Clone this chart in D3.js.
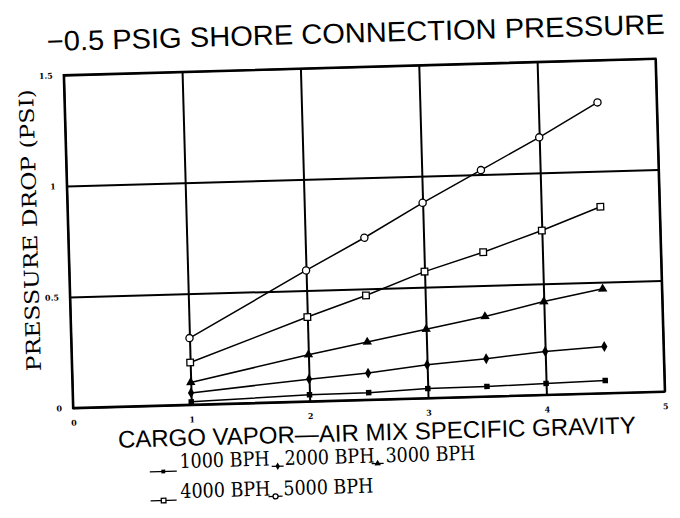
<!DOCTYPE html>
<html><head><meta charset="utf-8">
<script src="https://cdn.jsdelivr.net/npm/d3@7"></script>
<style>body{margin:0;background:#fff}</style>
</head><body><svg id="c" width="680" height="518"></svg>
<script>
// ---- data ----
const gravity = [1, 2, 2.5, 3, 3.5, 4, 4.5];
const seriesNames = ["1000 BPH", "2000 BPH", "3000 BPH", "4000 BPH", "5000 BPH"];
const bph1000 = [0.013, 0.030, 0.032, 0.043, 0.045, 0.051, 0.057];
const bph2000 = [0.053, 0.100, 0.120, 0.150, 0.170, 0.195, 0.210];
const bph3000 = [0.100, 0.210, 0.260, 0.310, 0.360, 0.420, 0.470];
const bph4000 = [0.190, 0.380, 0.470, 0.570, 0.650, 0.740, 0.840];
const bph5000 = [0.300, 0.590, 0.730, 0.880, 1.020, 1.160, 1.310];
const xTicks = [0, 1, 2, 3, 4, 5];
const xTickLabels = ["0", "1", "2", "3", "4", "5"];
const yTicks = [0, 0.5, 1, 1.5];
const yTickLabels = ["0", "0.5", "1", "1.5"];
const titleText = "\u22120.5 PSIG SHORE CONNECTION PRESSURE";
const xTitle = "CARGO VAPOR\u2014AIR MIX SPECIFIC GRAVITY";
const yTitle = "PRESSURE DROP (PSI)";

const seriesValues = [bph1000, bph2000, bph3000, bph4000, bph5000];
const markerTypes = ["fsquare", "fdiamond", "ftriangle", "osquare", "ocircle"];

// ---- layout ----
const L = 73, R = 665, T = 75, B = 408;
const svg = d3.select("#c");
const root = svg.append("g").attr("transform", `rotate(-1.6, ${L}, ${B})`);

const x = d3.scaleLinear().domain([0, 5]).range([L, R]);
const y = d3.scaleLinear().domain([0, 1.5]).range([B, T]);

// title
root.append("text").attr("x", 57).attr("y", 50.5)
  .attr("font-family", "Liberation Sans, Arial, sans-serif").attr("font-size", 28)
  .attr("textLength", 618).attr("lengthAdjust", "spacingAndGlyphs")
  .text(titleText);

// grid via axes
const gx = root.append("g").attr("transform", `translate(0,${B})`)
  .call(d3.axisBottom(x).tickValues(xTicks).tickSize(-(B - T)).tickPadding(12)
    .tickFormat((d, i) => xTickLabels[i]));
gx.select(".domain").remove();
gx.selectAll(".tick line").attr("stroke", "#000").attr("stroke-width", 2);
gx.selectAll(".tick text").attr("font-family", "DejaVu Serif, serif").attr("font-size", 8)
  .attr("font-weight", "bold").attr("fill", "#000");

const gy = root.append("g").attr("transform", `translate(${L},0)`)
  .call(d3.axisLeft(y).tickValues(yTicks).tickSize(-(R - L)).tickPadding(11)
    .tickFormat((d, i) => yTickLabels[i]));
gy.select(".domain").remove();
gy.selectAll(".tick line").attr("stroke", "#000").attr("stroke-width", 2);
gy.selectAll(".tick text").attr("font-family", "DejaVu Serif, serif").attr("font-size", 8)
  .attr("font-weight", "bold").attr("fill", "#000");

// border
root.append("rect").attr("x", L).attr("y", T).attr("width", R - L).attr("height", B - T)
  .attr("fill", "none").attr("stroke", "#000").attr("stroke-width", 2.2);

// markers
function drawMarker(g, type, cx, cy, s) {
  const k = s || 1;
  if (type === "ocircle") {
    g.append("circle").attr("cx", cx).attr("cy", cy).attr("r", 3.6 * k)
      .attr("fill", "#fff").attr("stroke", "#000").attr("stroke-width", 1.3);
  } else if (type === "osquare") {
    g.append("rect").attr("x", cx - 3.3 * k).attr("y", cy - 3.3 * k)
      .attr("width", 6.6 * k).attr("height", 6.6 * k)
      .attr("fill", "#fff").attr("stroke", "#000").attr("stroke-width", 1.3);
  } else {
    const sym = type === "fsquare" ? d3.symbolSquare :
                type === "fdiamond" ? d3.symbolDiamond : d3.symbolTriangle;
    const size = type === "fsquare" ? 30 : type === "fdiamond" ? 34 : 38;
    g.append("path").attr("d", d3.symbol().type(sym).size(size * k * k)())
      .attr("transform", `translate(${cx},${cy})`).attr("fill", "#000");
  }
}

const line = d3.line().x((d, i) => x(gravity[i])).y(d => y(d));
seriesValues.forEach((vals, si) => {
  const g = root.append("g");
  g.append("path").attr("d", line(vals)).attr("fill", "none")
    .attr("stroke", "#000").attr("stroke-width", 1.5);
  vals.forEach((v, i) => drawMarker(g, markerTypes[si], x(gravity[i]), y(v)));
});

// axis titles
root.append("text").attr("x", 117).attr("y", 449)
  .attr("font-family", "Liberation Sans, Arial, sans-serif").attr("font-size", 24)
  .attr("textLength", 518).attr("lengthAdjust", "spacingAndGlyphs")
  .text(xTitle);

root.append("text").attr("transform", "translate(42,229) rotate(-90)")
  .attr("text-anchor", "middle")
  .attr("font-family", "DejaVu Serif, serif").attr("font-size", 20)
  .attr("textLength", 282).attr("lengthAdjust", "spacingAndGlyphs")
  .text(yTitle);

// legend
const legendPos = [
  {sx0: 148, sx1: 175, sy: 474, tx: 178, ty: 471},
  {sx0: 270, sx1: 282, sy: 472, tx: 283, ty: 471},
  {sx0: 370, sx1: 382, sy: 472, tx: 384, ty: 471},
  {sx0: 148, sx1: 174, sy: 503, tx: 178, ty: 501},
  {sx0: 266, sx1: 280, sy: 502, tx: 281, ty: 501}
];
const lg = root.append("g");
seriesNames.forEach((name, i) => {
  const p = legendPos[i];
  lg.append("line").attr("x1", p.sx0).attr("x2", p.sx1).attr("y1", p.sy).attr("y2", p.sy)
    .attr("stroke", "#000").attr("stroke-width", 1.2);
  drawMarker(lg, markerTypes[i], (p.sx0 + p.sx1) / 2, p.sy, 0.7);
  lg.append("text").attr("x", p.tx).attr("y", p.ty)
    .attr("font-family", "DejaVu Serif, serif").attr("font-size", 20)
    .attr("textLength", 90).attr("lengthAdjust", "spacingAndGlyphs")
    .text(name);
});
</script></body></html>
